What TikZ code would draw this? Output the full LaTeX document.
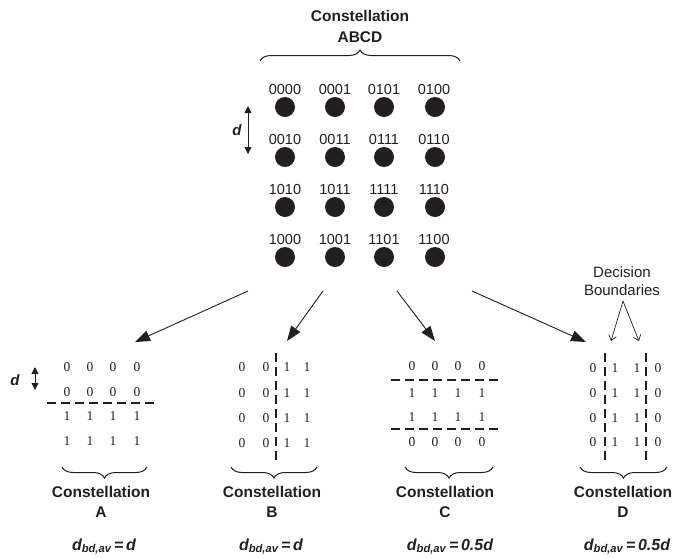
\documentclass[tikz,border=0pt]{standalone}
\usepackage{fontspec}
\setmainfont{Liberation Sans}
\newfontfamily\bitfont{Liberation Serif}
\usetikzlibrary{arrows.meta,decorations.pathreplacing}
\definecolor{ink}{HTML}{231F20}
\begin{document}
\begin{tikzpicture}[x=1pt,y=-1pt,
  every node/.style={text=ink, inner sep=0pt},
  codeword/.style={font=\fontsize{14.5}{16}\selectfont},
  symbol/.style={circle, fill=ink, minimum size=20pt},
  heading/.style={font=\bfseries\fontsize{15.5}{21}\selectfont, align=center},
  subheading/.style={font=\bfseries\fontsize{15.5}{20}\selectfont, align=center},
  bit/.style={font=\bitfont\fontsize{13.5}{15}\selectfont},
  formula/.style={font=\bfseries\itshape\fontsize{16}{18}\selectfont, anchor=base},
  distlabel/.style={font=\bfseries\itshape\fontsize{15}{18}\selectfont},
  boundary/.style={draw=ink, line width=2pt, dash pattern=on 9pt off 5pt},
  curly/.style={draw=ink, line width=1pt, decorate, decoration={brace, amplitude=11pt}},
  feed/.style={draw=ink, line width=0.9pt, -{Triangle[length=15pt,width=11pt]}},
  spacing/.style={draw=ink, line width=0.9pt, {Triangle[length=7pt,width=7pt]}-{Triangle[length=7pt,width=7pt]}},
  pointer/.style={draw=ink, line width=0.7pt, -{Straight Barb[length=5pt,width=8pt]}}
]
\useasboundingbox (0,0) rectangle (683,558);

% ---- full 16-point constellation ----
\node[heading] (title) at (360,26) {Constellation\\ABCD};
\draw[curly] (260,61) -- (460,61);

\foreach \r/\y in {1/90,2/140,3/190,4/240}{
  \foreach \c/\x in {1/285,2/335,3/384,4/435}{
    \node[symbol] (p\r\c) at (\x,\y+17) {};
  }
}
\foreach \w [count=\i from 0] in {0000,0001,0101,0100,0010,0011,0111,0110,
                                 1010,1011,1111,1110,1000,1001,1101,1100}{
  \pgfmathtruncatemacro{\r}{int(\i/4)}
  \pgfmathtruncatemacro{\c}{mod(\i,4)}
  \node[codeword] (w\i) at ({285+\c*50-(\c>1?1:0)}, {90+\r*50}) {\w};
}

% spacing d between rows
\coordinate (dtop) at (248,106);
\coordinate (dbot) at (248,154);
\draw[spacing] (dtop) -- (dbot);
\node[distlabel] (dlab) at (237,130) {d};

% ---- arrows to the four sub-constellations ----
\coordinate (s1) at (248,291);
\coordinate (s2) at (323,291);
\coordinate (s3) at (397,291);
\coordinate (s4) at (472,291);
\coordinate (t1) at (135,342);
\coordinate (t2) at (287,341);
\coordinate (t3) at (435,341);
\coordinate (t4) at (586,342);
\draw[feed] (s1) -- (t1);
\draw[feed] (s2) -- (t2);
\draw[feed] (s3) -- (t3);
\draw[feed] (s4) -- (t4);

% ---- constellation A ----
\foreach \r/\y/\b in {1/367/0,2/392/0,3/416/1,4/441/1}{
  \foreach \c/\x in {1/67,2/90,3/113,4/137}{
    \node[bit] (a\r\c) at (\x,\y) {\b};
  }
}
\coordinate (aL) at (47,403);
\coordinate (aR) at (156,403);
\draw[boundary] (aL) -- (aR);
\coordinate (adt) at (35,367);
\coordinate (adb) at (35,390);
\draw[spacing] (adt) -- (adb);
\node[distlabel] (adl) at (15,380) {d};
\draw[curly] (147,467) -- (62,467);
\node[subheading] (ta) at (101,502) {Constellation\\A};
\node[formula] (fa) at (104,550) {d\textsubscript{bd,av}\,=\,d};

% ---- constellation B ----
\foreach \r/\y in {1/367,2/393,3/418,4/443}{
  \foreach \c/\x/\b in {1/242/0,2/266/0,3/287/1,4/307/1}{
    \node[bit] (b\r\c) at (\x,\y) {\b};
  }
}
\coordinate (bT) at (276,353);
\coordinate (bB) at (276,462);
\draw[boundary] (bT) -- (bB);
\draw[curly] (317,467) -- (231,467);
\node[subheading] (tb) at (272,502) {Constellation\\B};
\node[formula] (fb) at (271,550) {d\textsubscript{bd,av}\,=\,d};

% ---- constellation C ----
\foreach \r/\y/\b in {1/366/0,2/393/1,3/417/1,4/442/0}{
  \foreach \c/\x in {1/412,2/435,3/458,4/482}{
    \node[bit] (c\r\c) at (\x,\y) {\b};
  }
}
\coordinate (cL1) at (391,380);
\coordinate (cR1) at (500,380);
\coordinate (cL2) at (391,429);
\coordinate (cR2) at (500,429);
\draw[boundary] (cL1) -- (cR1);
\draw[boundary] (cL2) -- (cR2);
\draw[curly] (493,467) -- (405,467);
\node[subheading] (tc) at (445,502) {Constellation\\C};
\node[formula] (fc) at (450,550) {d\textsubscript{bd,av}\,=\,0.5d};

% ---- constellation D ----
\foreach \r/\y in {1/368,2/393,3/418,4/442}{
  \foreach \c/\x/\b in {1/593/0,2/615/1,3/637/1,4/658/0}{
    \node[bit] (e\r\c) at (\x,\y) {\b};
  }
}
\coordinate (dT1) at (605,353);
\coordinate (dB1) at (605,461);
\coordinate (dT2) at (646,353);
\coordinate (dB2) at (646,461);
\draw[boundary] (dT1) -- (dB1);
\draw[boundary] (dT2) -- (dB2);
\draw[curly] (667,467) -- (580,467);
\node[subheading] (td) at (623,502) {Constellation\\D};
\node[formula] (fd) at (627,550) {d\textsubscript{bd,av}\,=\,0.5d};

% decision boundary callout
\node[font=\fontsize{15}{18}\selectfont, align=center] (dec) at (622,281) {Decision\\Boundaries};
\coordinate (dsrc) at (623,301);
\coordinate (dl) at (611,341);
\coordinate (dr) at (639,341);
\draw[pointer] (dsrc) -- (dl);
\draw[pointer] (dsrc) -- (dr);
\end{tikzpicture}
\end{document}
